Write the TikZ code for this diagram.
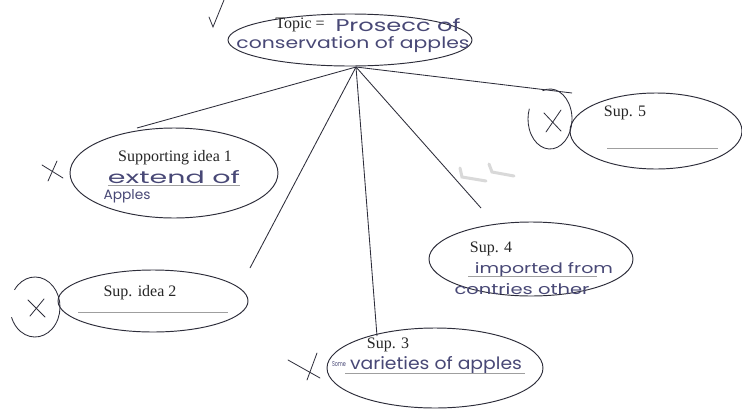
\documentclass[tikz,border=0pt]{standalone}
\usepackage{fontspec}
\setmainfont{Liberation Serif}
\newfontfamily\handfont{Poppins}
\usetikzlibrary{shapes.geometric}
\definecolor{ink}{RGB}{72,72,118}
\definecolor{pencil}{RGB}{45,45,58}
\newcommand{\hw}[3]{\resizebox{#1pt}{#2pt}{\handfont\fontsize{20}{22}\selectfont #3}}
\begin{document}
\begin{tikzpicture}[x=1pt,y=-1pt,
  bubble/.style={draw=pencil, line width=0.95pt, ellipse, inner sep=0pt},
  printed/.style={font=\fontsize{16}{18}\selectfont, text=black!85, inner sep=0pt},
  hand/.style={text=ink, inner sep=0pt, anchor=base},
  link/.style={draw=pencil, line width=0.85pt},
  rulestroke/.style={draw=gray!75, line width=0.6pt},
  crossmark/.style={draw=pencil, line width=0.8pt, line cap=round},
  loopmark/.style={draw=pencil, line width=0.85pt}]
\fill[white] (0,0) rectangle (742,410);
\useasboundingbox (0,0) rectangle (742,410);

% bubbles
\node[bubble, minimum width=244pt, minimum height=52pt] (topic) at (350,40) {};
\node[bubble, minimum width=208pt, minimum height=90pt] (idea1) at (174,173) {};
\node[bubble, minimum width=190pt, minimum height=62pt] (idea2) at (153,301) {};
\node[bubble, minimum width=216pt, minimum height=80pt] (sup3) at (435,368) {};
\node[bubble, minimum width=204pt, minimum height=74pt] (sup4) at (531,259) {};
\node[bubble, minimum width=172pt, minimum height=76pt] (sup5) at (656,131) {};

% connectors
\coordinate (hub) at (356,67);
\coordinate (e1) at (137,128);
\coordinate (e2) at (250,268);
\coordinate (e3) at (377,336);
\coordinate (e4) at (481,208);
\coordinate (e5) at (572,93);
\draw[link] (hub) -- (e1);
\draw[link] (hub) -- (e2);
\draw[link] (hub) -- (e3);
\draw[link] (hub) -- (e4);
\draw[link] (hub) -- (e5);

% topic text
\node[printed] (topiclbl) at (300,25) {Topic =};
\node[hand] (topich1) at (398,31) {\hw{125}{13}{Prosecc of}};
\node[hand] (topich2) at (353,48) {\hw{233}{12}{conservation of apples}};

% idea 1
\node[printed] (idea1lbl) at (175,158) {Supporting idea 1};
\node[hand] (idea1h1) at (174,183) {\hw{132}{13}{extend of}};
\draw[rulestroke] (108,185) -- (240,185);
\node[hand] (idea1h2) at (127,199) {\hw{47}{10}{Apples}};

% idea 2
\node[printed] (idea2lbl) at (140,293) {Sup. idea 2};
\draw[rulestroke] (78,312) -- (228,312);

% sup 3
\node[printed] (sup3lbl) at (388,345) {Sup. 3};
\node[hand] (sup3h0) at (339,366) {\hw{14}{5}{Some}};
\node[hand] (sup3h1) at (436,369) {\hw{172}{13}{varieties of apples}};
\draw[rulestroke] (345,373) -- (525,373);

% sup 4
\node[printed] (sup4lbl) at (491,249) {Sup. 4};
\node[hand] (sup4h1) at (544,273) {\hw{138}{11}{imported from}};
\draw[rulestroke] (468,276) -- (597,276);
\node[hand] (sup4h2) at (522,294) {\hw{135}{11}{contries other}};

% sup 5
\node[printed] (sup5lbl) at (625,113) {Sup. 5};
\draw[rulestroke] (607,148) -- (718,148);

% teacher marks
\draw[crossmark] (209,17) -- (213,27) -- (224,0);
\draw[crossmark] (42,165) -- (63,178);
\draw[crossmark] (57,161) -- (48,181);
\draw[loopmark] (35,307) ++(215:25 and 30) arc[start angle=215, end angle=520, x radius=25, y radius=30];
\draw[crossmark] (28,300) -- (45,317);
\draw[crossmark] (44,299) -- (30,316);
\draw[crossmark] (288,360) -- (320,378);
\draw[crossmark] (317,353) -- (307,380);
\draw[loopmark] (550,119) ++(250:22 and 30) arc[start angle=250, end angle=560, x radius=22, y radius=30];
\draw[crossmark] (544,113) -- (561,131);
\draw[crossmark] (561,110) -- (546,132);

% smudges
\draw[gray!30, line width=3pt, line cap=round] (460,168) -- (462,177) -- (486,181);
\draw[gray!30, line width=3pt, line cap=round] (489,164) -- (492,172) -- (514,176);
\end{tikzpicture}
\end{document}
